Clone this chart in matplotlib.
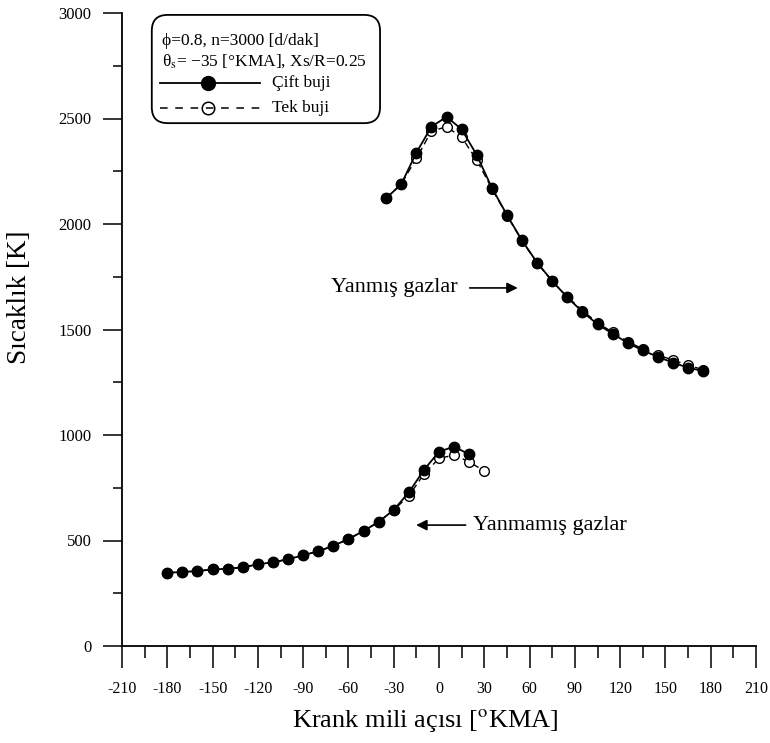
import matplotlib
matplotlib.use("Agg")
import matplotlib.pyplot as plt
from matplotlib.patches import FancyBboxPatch
from matplotlib.lines import Line2D

plt.rcParams["font.family"] = ["Liberation Serif", "DejaVu Serif"]
plt.rcParams["mathtext.fontset"] = "stix"
plt.rcParams["axes.unicode_minus"] = False

# Burned gases (Yanmış gazlar)
burned_angle = [-35, -25, -15, -5, 5, 15, 25, 35, 45, 55, 65, 75, 85, 95,
                105, 115, 125, 135, 145, 155, 165, 175]
burned_double = [2122, 2189, 2338, 2461, 2508, 2449, 2327, 2172, 2043, 1922,
                 1817, 1730, 1652, 1584, 1525, 1480, 1436, 1401, 1370, 1343,
                 1319, 1303]
burned_single = [2122, 2189, 2311, 2440, 2461, 2411, 2303, 2168, 2040, 1920,
                 1815, 1728, 1655, 1590, 1532, 1487, 1443, 1408, 1378, 1356,
                 1330, 1310]

# Unburned gases (Yanmamış gazlar)
unburned_angle_double = [-180, -170, -160, -150, -140, -130, -120, -110, -100,
                         -90, -80, -70, -60, -50, -40, -30, -20, -10, 0, 10, 20]
unburned_double = [347, 351, 355, 363, 366, 373, 387, 397, 411, 430, 449, 475,
                   507, 545, 588, 645, 728, 834, 921, 945, 908]
unburned_angle_single = [-180, -170, -160, -150, -140, -130, -120, -110, -100,
                         -90, -80, -70, -60, -50, -40, -30, -20, -10, 0, 10, 20, 30]
unburned_single = [347, 351, 355, 363, 366, 373, 387, 397, 411, 430, 449, 475,
                   507, 545, 588, 645, 711, 815, 889, 905, 873, 829]

x_ticks = list(range(-210, 211, 30))
y_ticks = [0, 500, 1000, 1500, 2000, 2500, 3000]

fig = plt.figure(figsize=(7.7, 7.43), dpi=100)
ax = fig.add_axes([122 / 770, 1 - 646 / 743, 634 / 770, 633 / 743])

single_style = dict(color="black", lw=1.0, ls=(0, (5, 3)), marker="o", ms=7,
                    mfc="white", mec="black", mew=1.0)
double_style = dict(color="black", lw=1.3, ls="-", marker="o", ms=7.5,
                    mfc="black", mec="black")

ax.plot(burned_angle, burned_single, **single_style, zorder=2)
ax.plot(unburned_angle_single, unburned_single, **single_style, zorder=2)
ax.plot(burned_angle, burned_double, **double_style, zorder=3)
ax.plot(unburned_angle_double, unburned_double, **double_style, zorder=3)

ax.set_xlim(-210, 210)
ax.set_ylim(0, 3000)
ax.set_xticks(x_ticks)
ax.set_xticklabels([str(v) for v in x_ticks])
ax.set_xticks(list(range(-195, 210, 30)), minor=True)
ax.set_yticks(y_ticks)
ax.set_yticks([250, 750, 1250, 1750, 2250, 2750], minor=True)

for s in ("top", "right"):
    ax.spines[s].set_visible(False)
for s in ("left", "bottom"):
    ax.spines[s].set_linewidth(1.3)

ax.tick_params(axis="x", which="major", direction="out", length=16, width=1.1,
               labelsize=11.5, pad=9)
ax.tick_params(axis="x", which="minor", direction="out", length=8.5, width=1.1)
ax.tick_params(axis="y", which="major", direction="out", length=14, width=1.1,
               labelsize=12, pad=8)
ax.tick_params(axis="y", which="minor", direction="out", length=6.5, width=1.1)

ax.set_xlabel(r"Krank mili açısı [$^{\mathrm{o}}$KMA]", fontsize=19)
ax.xaxis.set_label_coords(0.478, -0.097)
ax.set_ylabel("Sıcaklık [K]", fontsize=19.5)
ax.yaxis.set_label_coords(-0.142, 0.551)

# Curve annotations
ax.text(12.6, 1697, "Yanmış gazlar", fontsize=16, ha="right", va="center")
ax.annotate("", xy=(54, 1697), xytext=(18.5, 1697),
            arrowprops=dict(arrowstyle="-|>", color="black", lw=1.2,
                            mutation_scale=16))
ax.text(22.5, 573, "Yanmamış gazlar", fontsize=16, ha="left", va="center")
ax.annotate("", xy=(-17, 573), xytext=(19.5, 573),
            arrowprops=dict(arrowstyle="-|>", color="black", lw=1.2,
                            mutation_scale=16))

# Legend box with operating conditions
box = FancyBboxPatch((0.047, 0.826), 0.36, 0.171, transform=ax.transAxes,
                     boxstyle="round,pad=0,rounding_size=0.025",
                     fc="white", ec="black", lw=1.3, zorder=5)
ax.add_patch(box)
ax.text(0.0626, 0.956, "ϕ=0.8, n=3000 [d/dak]", transform=ax.transAxes,
        fontsize=12.5, va="center", ha="left", zorder=6)
ax.text(0.0626, 0.9246, r"θ$_\mathrm{s}$= −35 [°KMA], Xs/R=0.25",
        transform=ax.transAxes, fontsize=12.5, va="center", ha="left", zorder=6)

ax.add_line(Line2D([0.060, 0.218], [0.8899, 0.8899], transform=ax.transAxes,
                   color="black", lw=1.3, zorder=6))
ax.add_line(Line2D([0.1356], [0.8899], transform=ax.transAxes, marker="o",
                   ms=10, mfc="black", mec="black", ls="none", zorder=7))
ax.text(0.2366, 0.8899, "Çift buji", transform=ax.transAxes, fontsize=12.5,
        va="center", ha="left", zorder=6)

ax.add_line(Line2D([0.060, 0.218], [0.8499, 0.8499], transform=ax.transAxes,
                   color="black", lw=1.1, ls=(0, (5, 5)), zorder=6))
ax.add_line(Line2D([0.1356], [0.8499], transform=ax.transAxes, marker="o",
                   ms=9, mfc="none", mec="black", mew=1.1, ls="none", zorder=7))
ax.text(0.2366, 0.8499, "Tek buji", transform=ax.transAxes, fontsize=12.5,
        va="center", ha="left", zorder=6)

fig.savefig("out.png", dpi=100)
